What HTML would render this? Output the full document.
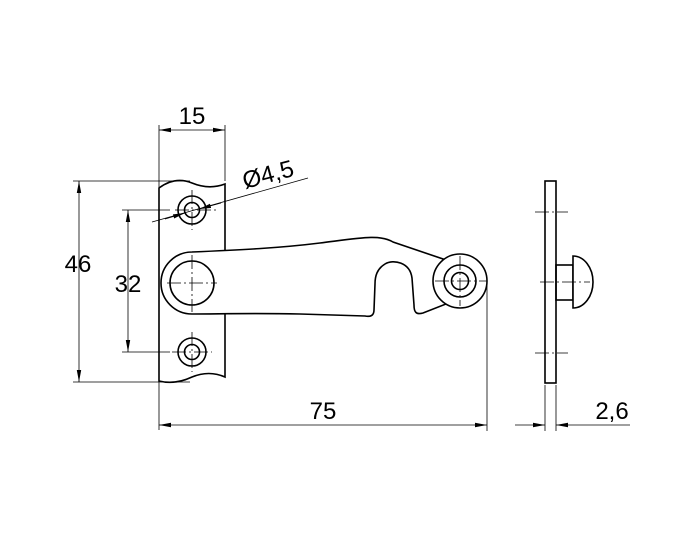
<!DOCTYPE html>
<html><head><style>body{margin:0;background:#fff}svg{display:block}</style></head><body>
<svg width="700" height="544" viewBox="0 0 700 544" xmlns="http://www.w3.org/2000/svg">
<defs><marker id="a" markerWidth="12" markerHeight="6" refX="12" refY="3" orient="auto-start-reverse" markerUnits="userSpaceOnUse"><path d="M0,0.8 L12,3 L0,5.2z" fill="#000"/></marker></defs>
<g fill="none" stroke="#000" stroke-width="1.6">
<!-- plate -->
<path d="M159,381 L159,188 Q175,176 192,183 Q209,190 225,184 L225,377 Q209,370 192,377 Q175,385 159,381Z" fill="#fff"/>
<circle cx="192" cy="210" r="14"/><circle cx="192" cy="210" r="7.5"/>
<circle cx="192" cy="352" r="14"/><circle cx="192" cy="352" r="7.5"/>
<!-- arm -->
<path d="M192,252 C240,250 280,248 320,243 C360,238 380,234 393,242 L446,260 L446,304 L423,313 C416,315 414,312 414,305 L412,278 C410,262 393,259 385,264 C377,269 375,276 375,284 L374,310 C374,316 370,317 365,316 L300,314 C250,313 220,314 192,314 A31,31 0 0 1 192,252Z" fill="#fff"/>
<circle cx="192" cy="283" r="22"/>
<circle cx="460" cy="281" r="27" fill="#fff"/><circle cx="460" cy="281" r="16"/><circle cx="460" cy="281" r="8.5"/>
<!-- side view -->
<rect x="545" y="181" width="11" height="202"/>
<rect x="556" y="265" width="17" height="35"/>
<path d="M573,256 A20,26 0 0 1 573,308 Z" fill="#fff"/>
</g>
<g stroke="#000" stroke-width="0.8" fill="none">
<path d="M192,190 V230 M175,210 H218 M192,332 V372 M172,352 H212 M192,255 V312 M167,283 H217 M460,256 V306 M435,281 H487" stroke-dasharray="14,3,2,3"/>
<path d="M535,212 H568 M535,353 H568 M540,282 H590" stroke-dasharray="14,3,2,3"/>
<path d="M159,125 V430 M225,125 V181"/>
<path d="M159,130 H225" marker-start="url(#a)" marker-end="url(#a)"/>
<path d="M73,181 H190 M73,382 H190"/>
<path d="M79,181 V382" marker-start="url(#a)" marker-end="url(#a)"/>
<path d="M122,210 H170 M122,352 H170"/>
<path d="M128,210 V352" marker-start="url(#a)" marker-end="url(#a)"/>
<path d="M487,284 V431"/>
<path d="M159,425 H487" marker-start="url(#a)" marker-end="url(#a)"/>
<path d="M545,385 V431 M556,385 V431"/>
<path d="M515,425 H545" marker-end="url(#a)"/>
<path d="M630,425 H556" marker-end="url(#a)"/>
<path d="M152,222 L308,178"/>
<path d="M165,219 L185,213" marker-end="url(#a)"/>
<path d="M221,203 L199,209" marker-end="url(#a)"/>
</g>
<g font-family="Liberation Sans, sans-serif" font-size="24" fill="#000">
<text x="192" y="124" text-anchor="middle">15</text>
<text x="78" y="272" text-anchor="middle">46</text>
<text x="128" y="292" text-anchor="middle">32</text>
<text x="323" y="419" text-anchor="middle">75</text>
<text x="612" y="419" text-anchor="middle">2,6</text>
<text x="245" y="189" transform="rotate(-15 245 189)">Ø4,5</text>
</g>
</svg>
</body></html>
